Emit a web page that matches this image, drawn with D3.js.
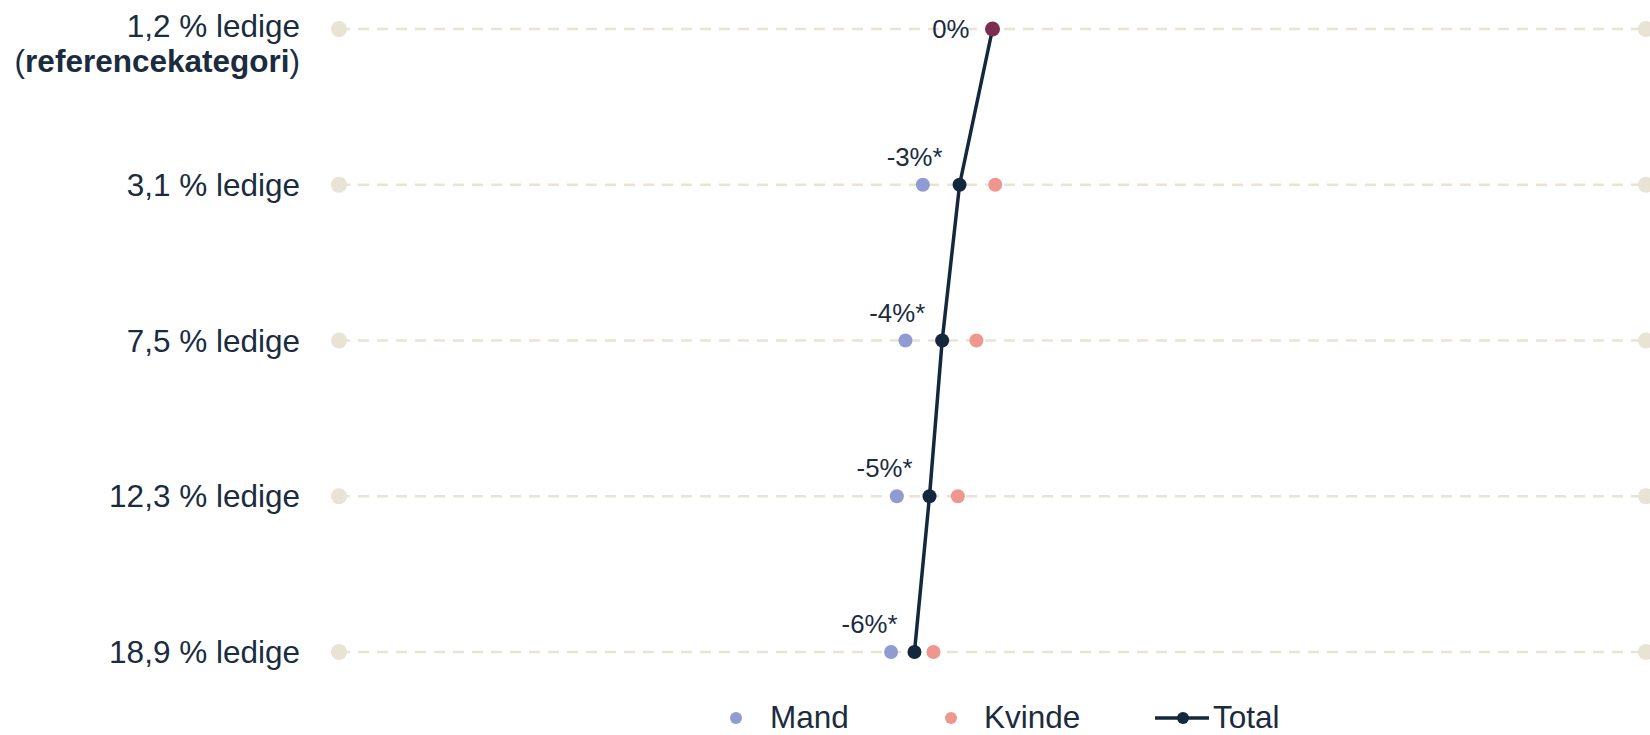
<!DOCTYPE html>
<html>
<head>
<meta charset="utf-8">
<script src="https://cdn.jsdelivr.net/npm/d3@7"></script>
<style>
  html, body { margin: 0; padding: 0; background: #ffffff; }
  svg { display: block; font-family: "Liberation Sans", Arial, sans-serif; }
</style>
</head>
<body>
<svg id="chart" width="1650" height="735"></svg>
<script>
// ---- Data ----
const categories = ["1,2 % ledige", "3,1 % ledige", "7,5 % ledige", "12,3 % ledige", "18,9 % ledige"];
const totalValues = [0, -0.0252, -0.0385, -0.0482, -0.0597];
const mandValues = [null, -0.0533, -0.0666, -0.0732, -0.0776];
const kvindeValues = [null, 0.0021, -0.0123, -0.0265, -0.0452];
const totalLabels = ["0%", "-3%*", "-4%*", "-5%*", "-6%*"];
const xDomain = [-0.5, 0.5];
const legendItems = ["Mand", "Kvinde", "Total"];

// ---- Styles ----
const navy = "#13283c";
const textColor = "#1a2c3e";
const mandColor = "#8f9bd1";
const kvindeColor = "#ef968f";
const refColor = "#7b2e4d";
const gridColor = "#e9e3d6";

const svg = d3.select("#chart");

const x = d3.scaleLinear().domain(xDomain).range([339, 1646]);
const y = d3.scalePoint().domain(categories).range([29, 652]);

// Dashed grid lines per category
svg.append("g").selectAll("line").data(categories).join("line")
  .attr("x1", x(xDomain[0])).attr("x2", x(xDomain[1]))
  .attr("y1", d => y(d)).attr("y2", d => y(d))
  .attr("stroke", gridColor).attr("stroke-width", 2.7)
  .attr("stroke-dasharray", "11,8");

// End dots
const ends = [];
categories.forEach(c => { ends.push({c, v: xDomain[0]}); ends.push({c, v: xDomain[1]}); });
svg.append("g").selectAll("circle").data(ends).join("circle")
  .attr("cx", d => x(d.v)).attr("cy", d => y(d.c)).attr("r", 8)
  .attr("fill", gridColor);

// Y axis labels
const yAxis = svg.append("g").attr("font-size", 31.5).attr("fill", textColor);
categories.forEach((c, i) => {
  if (i === 0) {
    const t = yAxis.append("text").attr("text-anchor", "end").attr("x", 300).attr("y", y(c) + 8);
    t.text(c);
    const t2 = yAxis.append("text").attr("text-anchor", "end").attr("x", 300).attr("y", y(c) + 43);
    t2.append("tspan").text("(");
    t2.append("tspan").attr("font-weight", "bold").text("referencekategori");
    t2.append("tspan").text(")");
  } else {
    yAxis.append("text").attr("text-anchor", "end").attr("x", 300)
      .attr("y", y(c)).attr("dy", "0.35em").text(c);
  }
});

// Mand and Kvinde dots
const mandData = categories.map((c, i) => ({c, v: mandValues[i]})).filter(d => d.v !== null);
const kvindeData = categories.map((c, i) => ({c, v: kvindeValues[i]})).filter(d => d.v !== null);
svg.append("g").selectAll("circle").data(mandData).join("circle")
  .attr("cx", d => x(d.v)).attr("cy", d => y(d.c)).attr("r", 7).attr("fill", mandColor);
svg.append("g").selectAll("circle").data(kvindeData).join("circle")
  .attr("cx", d => x(d.v)).attr("cy", d => y(d.c)).attr("r", 7).attr("fill", kvindeColor);

// Total line
const totalData = categories.map((c, i) => ({c, v: totalValues[i], label: totalLabels[i], i}));
svg.append("path").datum(totalData)
  .attr("d", d3.line().x(d => x(d.v)).y(d => y(d.c)))
  .attr("fill", "none").attr("stroke", navy).attr("stroke-width", 3.5);
svg.append("g").selectAll("circle").data(totalData).join("circle")
  .attr("cx", d => x(d.v)).attr("cy", d => y(d.c))
  .attr("r", d => d.i === 0 ? 7.5 : 7)
  .attr("fill", d => d.i === 0 ? refColor : navy);

// Total labels
svg.append("g").selectAll("text").data(totalData).join("text")
  .attr("text-anchor", "end").attr("font-size", 25.8).attr("fill", textColor)
  .attr("x", d => d.i === 0 ? x(d.v) - 23 : x(d.v) - 17)
  .attr("y", d => d.i === 0 ? y(d.c) : y(d.c) - 19)
  .attr("dy", d => d.i === 0 ? "0.35em" : 0)
  .text(d => d.label);

// Legend
const lg = svg.append("g").attr("font-size", 31.5).attr("fill", textColor);
const ly = 718;
const lb = 728;
lg.append("circle").attr("cx", 736).attr("cy", ly).attr("r", 6).attr("fill", mandColor);
lg.append("text").attr("x", 770).attr("y", lb).text(legendItems[0]);
lg.append("circle").attr("cx", 951).attr("cy", ly).attr("r", 6).attr("fill", kvindeColor);
lg.append("text").attr("x", 984).attr("y", lb).text(legendItems[1]);
lg.append("line").attr("x1", 1155).attr("x2", 1209).attr("y1", ly).attr("y2", ly)
  .attr("stroke", navy).attr("stroke-width", 3.5);
lg.append("circle").attr("cx", 1183).attr("cy", ly).attr("r", 6).attr("fill", navy);
lg.append("text").attr("x", 1213).attr("y", lb).text(legendItems[2]);
</script>
</body>
</html>
